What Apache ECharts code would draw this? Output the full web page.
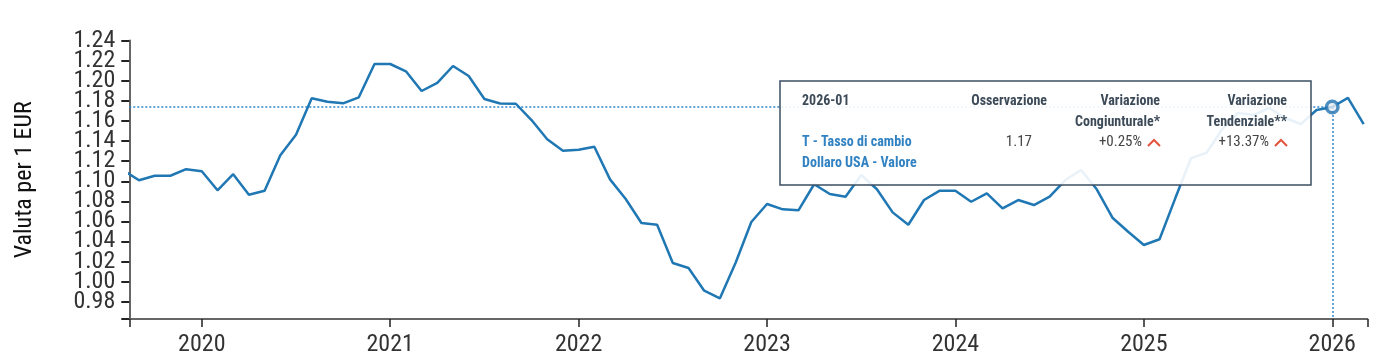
<!DOCTYPE html>
<html><head><meta charset="utf-8">
<script src="https://cdn.jsdelivr.net/npm/echarts@6/dist/echarts.min.js"></script>
<style>html,body{margin:0;padding:0;background:#fff}#c{width:1379px;height:357px}</style>
</head><body><div id="c"></div>
<script>
var months = ['2019-08','2019-09','2019-10','2019-11','2019-12',
'2020-01','2020-02','2020-03','2020-04','2020-05','2020-06','2020-07','2020-08','2020-09','2020-10','2020-11','2020-12',
'2021-01','2021-02','2021-03','2021-04','2021-05','2021-06','2021-07','2021-08','2021-09','2021-10','2021-11','2021-12',
'2022-01','2022-02','2022-03','2022-04','2022-05','2022-06','2022-07','2022-08','2022-09','2022-10','2022-11','2022-12',
'2023-01','2023-02','2023-03','2023-04','2023-05','2023-06','2023-07','2023-08','2023-09','2023-10','2023-11','2023-12',
'2024-01','2024-02','2024-03','2024-04','2024-05','2024-06','2024-07','2024-08','2024-09','2024-10','2024-11','2024-12',
'2025-01','2025-02','2025-03','2025-04','2025-05','2025-06','2025-07','2025-08','2025-09','2025-10','2025-11','2025-12',
'2026-01','2026-02','2026-03'];
var values = [1.111,1.101,1.1055,1.1055,1.112,
1.110,1.091,1.107,1.0866,1.0906,1.126,1.1464,1.1826,1.1792,1.1776,1.1836,1.2168,
1.2168,1.2095,1.1899,1.1979,1.2148,1.2048,1.182,1.1775,1.1772,1.161,1.1418,1.1304,
1.1314,1.1344,1.1019,1.0823,1.0584,1.0567,1.0186,1.0136,0.991,0.9834,1.0188,1.0594,
1.0773,1.072,1.071,1.097,1.0873,1.0846,1.1062,1.092,1.069,1.0567,1.0813,1.0906,
1.0906,1.0796,1.088,1.073,1.0813,1.0763,1.0846,1.1012,1.1112,1.092,1.0637,1.0497,
1.0365,1.0422,1.083,1.1229,1.1284,1.152,1.168,1.166,1.173,1.163,1.157,1.171,
1.174,1.183,1.157];
var yTicks = [0.98,1.00,1.02,1.04,1.06,1.08,1.10,1.12,1.14,1.16,1.18,1.20,1.22,1.24];
var xTicks = [2020,2021,2022,2023,2024,2025,2026];
var highlightMonth = '2026-01';
var tipHeader = ['2026-01','Osservazione','Variazione','Congiunturale*','Variazione','Tendenziale**'];
var tipRow = ['T - Tasso di cambio','Dollaro USA - Valore','1.17','+0.25%','+13.37%'];

var X_MIN = 2019.6152, X_MAX = 2026.186, Y_MIN = 0.9628, Y_MAX = 1.2401;
function toX(m){var p=m.split('-');return +p[0]+(+p[1]-1)/12;}
var lineData = months.map(function(m,i){return [toX(m), values[i]];});
var hi = months.indexOf(highlightMonth);
var hx = toX(highlightMonth), hv = values[hi];
var yLabelsA = yTicks.filter(function(v,i){return i%2===0;});
var yLabelsB = yTicks.filter(function(v,i){return i%2===1;});

var FF = "'Roboto Condensed',Roboto,sans-serif";
var chart = echarts.init(document.getElementById('c'));
var TXT='#3d4b59', BLUE='#3182c2', RED='#e5533d';
function t(x,y,s,opt){return {type:'text',x:x,y:y,z:100,style:Object.assign({text:s,font:'bold 14px '+FF,fill:TXT,textAlign:'left',textVerticalAlign:'middle'},opt||{})};}
function caret(x,y){return {type:'polyline',z:100,shape:{points:[[x,y+3.5],[x+6,y-2.5],[x+12,y+3.5]]},style:{stroke:RED,lineWidth:2,fill:null}};}
function yLab(vals){return {customValues:vals,showMinLabel:true,showMaxLabel:true,margin:14,fontSize:24,fontFamily:FF,color:'#333',formatter:function(v){return v.toFixed(2);}};}
chart.setOption({
  animation:false,
  grid:{left:129.3,right:11.7,top:40.6,bottom:38},
  xAxis:{type:'value',min:X_MIN,max:X_MAX,
    axisLine:{lineStyle:{color:'#666',width:2}},
    axisTick:{customValues:[X_MIN].concat(xTicks,[X_MAX]),length:8,lineStyle:{color:'#222',width:1.5}},
    axisLabel:{customValues:xTicks,showMinLabel:true,showMaxLabel:true,margin:14,fontSize:24,fontFamily:FF,color:'#333',formatter:function(v){return String(Math.round(v));}},
    splitLine:{show:false}},
  yAxis:[{type:'value',min:Y_MIN,max:Y_MAX,position:'left',name:'Valuta per 1 EUR',nameLocation:'middle',nameRotate:90,nameGap:92,
    nameTextStyle:{fontSize:24,fontFamily:FF,color:'#111'},
    axisLine:{show:true,lineStyle:{color:'#666',width:2}},
    axisTick:{show:true,customValues:[Y_MIN].concat(yTicks),length:8,lineStyle:{color:'#222',width:2}},
    axisLabel:yLab(yLabelsA),
    splitLine:{show:false}},
   {type:'value',min:Y_MIN,max:Y_MAX,position:'left',offset:0,
    axisLine:{show:false},axisTick:{show:false},
    axisLabel:yLab(yLabelsB),
    splitLine:{show:false}}],
  series:[
    {type:'line',data:lineData,symbol:'none',lineStyle:{color:'#1f77b4',width:2.5},z:2,clip:true},
    {type:'scatter',data:[[hx,hv]],symbol:'circle',symbolSize:11.5,z:5,
      itemStyle:{color:'#e8eef3',borderColor:'#2272b0',borderWidth:3.5},
      markLine:{silent:true,symbol:'none',label:{show:false},z:1,
        lineStyle:{color:'#2f86c8',type:[2,2],width:1.5},
        data:[[{coord:[X_MIN,hv]},{coord:[hx,hv]}],[{coord:[hx,hv]},{coord:[hx,Y_MIN]}]]}}
  ],
  graphic:[
    {type:'rect',z:90,shape:{x:780,y:81,width:531,height:104},style:{fill:'rgba(255,255,255,0.9)',stroke:'#3b4f63',lineWidth:1.5}},
    t(802,101,tipHeader[0]),
    t(1047,101,tipHeader[1],{textAlign:'right'}),
    t(1160,101,tipHeader[2],{textAlign:'right'}),
    t(1160,122,tipHeader[3],{textAlign:'right'}),
    t(1287,101,tipHeader[4],{textAlign:'right'}),
    t(1287,122,tipHeader[5],{textAlign:'right'}),
    t(802,142.5,tipRow[0],{fill:BLUE}),
    t(802,163.5,tipRow[1],{fill:BLUE}),
    t(1032,142.5,tipRow[2],{textAlign:'right',font:'15px '+FF,fill:'#444'}),
    t(1142,142.5,tipRow[3],{textAlign:'right',font:'15px '+FF,fill:'#444'}),
    t(1269,142.5,tipRow[4],{textAlign:'right',font:'15px '+FF,fill:'#444'}),
    caret(1148,142.5), caret(1275,142.5)
  ]
});
</script></body></html>
